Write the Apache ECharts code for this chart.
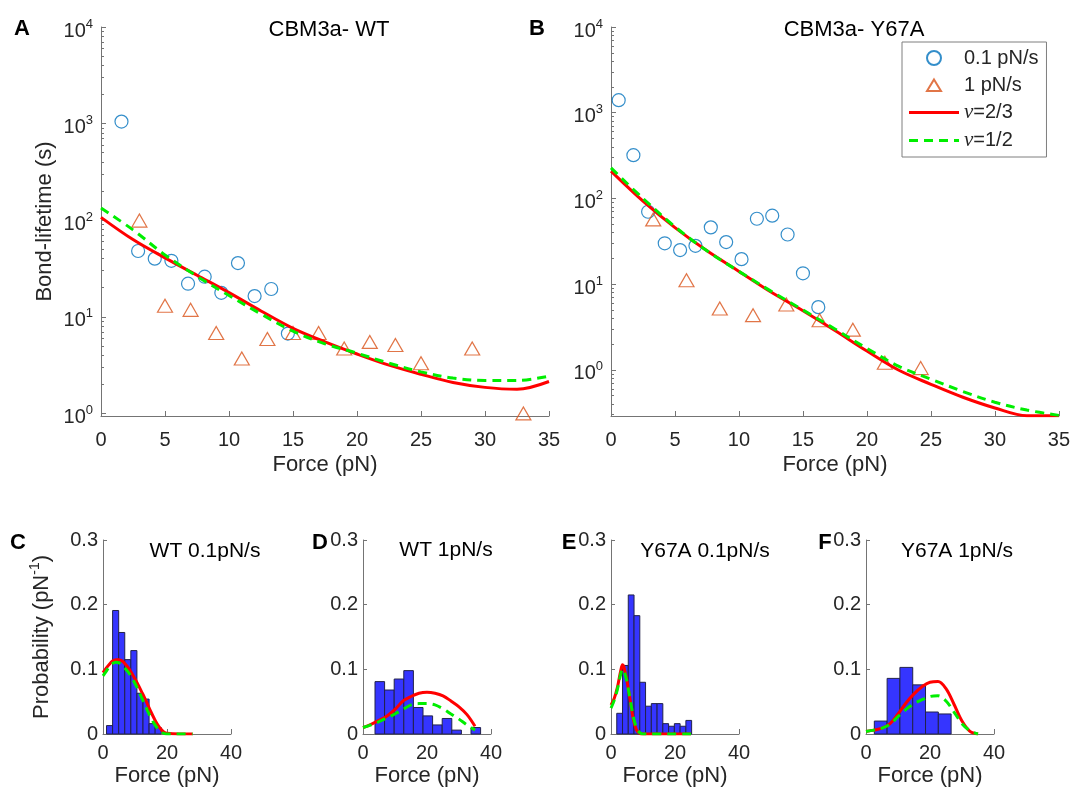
<!DOCTYPE html>
<html>
<head>
<meta charset="utf-8">
<title>CBM3a bond lifetime</title>
<script src="https://cdn.jsdelivr.net/npm/echarts@6.0.0/dist/echarts.min.js"></script>
<style>
html,body{margin:0;padding:0;background:#fff;}
#main{width:1073px;height:807px;}
</style>
</head>
<body>
<div id="main"></div>
<script>
// ---- data ----
// A: CBM3a- WT, bond lifetime vs force
var aCircleX = [1.6, 2.9, 4.2, 5.5, 6.8, 8.1, 9.4, 10.7, 12.0, 13.3, 14.6];
var aCircleY = [1050, 48, 40, 38, 22, 26, 17.7, 36, 16.4, 19.4, 6.7];
var aTriX = [3.0, 5.0, 7.0, 9.0, 11.0, 13.0, 15.0, 17.0, 19.0, 21.0, 23.0, 25.0, 29.0, 33.0];
var aTriY = [99, 13, 11.8, 6.8, 3.7, 5.9, 6.8, 6.8, 4.7, 5.5, 5.1, 3.3, 4.7, 1.0];
var fitX = [0, 2.5, 5, 7.5, 10, 12.5, 15, 17.5, 20, 22.5, 25, 27.5, 30, 32.5, 35];
var aRed = [107, 63, 40.7, 26.9, 17.8, 11.5, 7.6, 5.5, 4.12, 3.16, 2.54, 2.09, 1.86, 1.78, 2.14];
var aGreen = [134, 79.4, 43.7, 26.3, 16.6, 10.7, 7.1, 5.25, 4.2, 3.31, 2.69, 2.32, 2.19, 2.19, 2.43];

// B: CBM3a- Y67A
var bCircleX = [0.6, 1.75, 2.9, 4.2, 5.4, 6.6, 7.8, 9.0, 10.2, 11.4, 12.6, 13.8, 15.0, 16.2];
var bCircleY = [1400, 320, 70, 30, 25, 28, 46, 31, 19.6, 58, 63, 38, 13.4, 5.4];
var bTriX = [3.3, 5.9, 8.5, 11.1, 13.7, 16.3, 18.9, 21.4, 24.2];
var bTriY = [57, 11.1, 5.2, 4.35, 5.8, 3.8, 2.95, 1.21, 1.05];
var bRed = [208, 93, 45.7, 24.5, 14.1, 8.1, 4.9, 2.88, 1.66, 0.99, 0.68, 0.48, 0.36, 0.292, 0.291];
var bGreen = [227, 100, 46.8, 24.5, 14.1, 8.3, 5.0, 3.0, 1.78, 1.10, 0.78, 0.56, 0.42, 0.34, 0.295];

// C-F: force histograms (probability per pN)
var cBinStart = 1.1, cBinWidth = 1.9;
var cCounts = [0.013, 0.191, 0.157, 0.115, 0.129, 0.063, 0.054, 0.016, 0.01];
var dBinStart = 3.75, dBinWidth = 3.0;
var dCounts = [0.081, 0.068, 0.085, 0.098, 0.041, 0.028, 0.014, 0.024, 0.006, 0, 0.01];
var eBinStart = 1.8, eBinWidth = 1.8;
var eCounts = [0.032, 0.106, 0.215, 0.183, 0.08, 0.043, 0.047, 0.047, 0.016, 0.012, 0.016, 0.012, 0.021];
var fBinStart = 2.6, fBinWidth = 4.0;
var fCounts = [0.02, 0.086, 0.103, 0.076, 0.034, 0.031];

var cFitX = [0, 1, 2, 3, 4, 5, 6, 7, 8, 9, 10, 11, 12, 13, 14, 15, 16, 17, 18, 19, 20, 24, 28];
var cRed = [0.095, 0.102, 0.108, 0.113, 0.115, 0.115, 0.113, 0.108, 0.102, 0.094, 0.085, 0.076, 0.066, 0.056, 0.045, 0.034, 0.024, 0.015, 0.008, 0.003, 0.001, 0, 0];
var cGreen = [0.090, 0.097, 0.104, 0.109, 0.111, 0.110, 0.106, 0.101, 0.095, 0.087, 0.078, 0.068, 0.057, 0.046, 0.035, 0.025, 0.016, 0.009, 0.004, 0.001, 0, 0, 0];
var dRed = [0.010, 0.015, 0.021, 0.028, 0.038, 0.051, 0.058, 0.063, 0.0645, 0.063, 0.059, 0.051, 0.042, 0.030, 0.012];
var dGreen = [0.010, 0.014, 0.019, 0.025, 0.031, 0.038, 0.045, 0.047, 0.047, 0.045, 0.039, 0.031, 0.023, 0.014, 0.006];
var eFitX = [0, 1, 2, 3, 3.6, 4, 5, 6, 7, 8, 9, 10, 15, 20, 25];
var eRed = [0.045, 0.055, 0.072, 0.097, 0.107, 0.104, 0.082, 0.052, 0.022, 0.006, 0.001, 0, 0, 0, 0];
var eGreen = [0.040, 0.052, 0.069, 0.092, 0.100, 0.099, 0.080, 0.053, 0.026, 0.009, 0.002, 0, 0, 0, 0];
var fRed = [0.004, 0.006, 0.009, 0.016, 0.031, 0.048, 0.062, 0.073, 0.080, 0.081, 0.070, 0.046, 0.020, 0.004, 0];
var fGreen = [0.004, 0.006, 0.009, 0.015, 0.027, 0.038, 0.047, 0.053, 0.058, 0.059, 0.051, 0.034, 0.016, 0.005, 0];

var logMajor = [1, 10, 100, 1000, 10000];
var logMinorA = [2,3,4,5,6,7,8,9, 20,30,40,50,60,70,80,90, 200,300,400,500,600,700,800,900, 2000,3000,4000,5000,6000,7000,8000,9000];
var logMinorB = [0.3,0.4,0.5,0.6,0.7,0.8,0.9].concat(logMinorA);

// ---- styling ----
var FONT = '"Liberation Sans", Arial, Helvetica, sans-serif';
var AXIS = '#747474', TXT = '#262626';
var BLUE = '#0072BD', ORANGE = '#D95319', RED = '#ff0000', GREEN = '#00ee00';

// legend icons (padded to the 50x14 icon box so they are not stretched)
var ICON_TRI = 'path://M0,0M50,14M25,1.5L32,13L18,13Z';
var ICON_LINE = 'path://M0,0M50,14M0,5.5h50v3h-50z';
var ICON_DASH = 'path://M0,0M50,14M0,5.5h9v3h-9zM15,5.5h9v3h-9zM30,5.5h9v3h-9zM45,5.5h5v3h-5z';

function pairs(xs, ys){
    return xs.map(function(x, i){ return [x, ys[i]]; });
}
function bins(start, width, counts){
    var out = [];
    counts.forEach(function(c, i){
        if (c > 0) out.push([start + i*width, start + (i+1)*width, c]);
    });
    return out;
}
function powLabel(v){
    var e = Math.round(Math.log10(v));
    if (Math.abs(Math.pow(10, e) - v) > 1e-6*v) return '';
    return '{b|10}{s|' + e + '}';
}
var supRich = {
    b: {fontSize: 20, fontFamily: FONT, color: TXT, padding: [8,0,0,0]},
    s: {fontSize: 13, fontFamily: FONT, color: TXT, padding: [0,0,6,0]}
};

function xAx(i, max, interval, margin, gap){
    return {
        type: 'value', gridIndex: i, min: 0, max: max, interval: interval,
        name: 'Force (pN)', nameLocation: 'middle', nameGap: gap,
        nameTextStyle: {fontSize: 22, fontFamily: FONT, color: TXT},
        axisLine: {onZero: false, lineStyle: {color: AXIS, width: 1}},
        axisTick: {inside: true, length: 5, lineStyle: {color: AXIS}},
        axisLabel: {fontSize: 20, fontFamily: FONT, color: TXT, margin: margin},
        splitLine: {show: false}
    };
}
function logAx(i, min, name){
    return {
        type: 'log', logBase: 10, gridIndex: i, min: min, max: 10000,
        name: name, nameLocation: 'middle', nameGap: 45,
        nameTextStyle: {fontSize: 22, fontFamily: FONT, color: TXT},
        axisLine: {onZero: false, lineStyle: {color: AXIS, width: 1}},
        axisTick: {inside: true, length: 5, customValues: logMajor, lineStyle: {color: AXIS}},
        axisLabel: {customValues: logMajor, formatter: powLabel, rich: supRich, margin: 8},
        splitLine: {show: false}, minorTick: {show: false}
    };
}
function logMinorAx(i, min, ticks){
    return {
        type: 'log', logBase: 10, gridIndex: i, min: min, max: 10000, position: 'left',
        axisLine: {show: false},
        axisTick: {inside: true, length: 3, customValues: ticks, lineStyle: {color: AXIS}},
        axisLabel: {show: false}, splitLine: {show: false}
    };
}
function probAx(i, name){
    return {
        type: 'value', gridIndex: i, min: 0, max: 0.3, interval: 0.1,
        name: name, nameLocation: 'middle', nameGap: 50,
        nameTextStyle: {fontSize: 22, fontFamily: FONT, color: TXT, rich: {
            a: {fontSize: 22, fontFamily: FONT, color: TXT, padding: [6,0,0,0]},
            s: {fontSize: 14, fontFamily: FONT, color: TXT, padding: [0,0,8,0]}
        }},
        axisLine: {onZero: false, lineStyle: {color: AXIS, width: 1}},
        axisTick: {inside: true, length: 4, lineStyle: {color: AXIS}},
        axisLabel: {fontSize: 20, fontFamily: FONT, color: TXT, margin: 5},
        splitLine: {show: false}
    };
}

function histItem(params, api){
    var p0 = api.coord([api.value(0), api.value(2)]);
    var p1 = api.coord([api.value(1), 0]);
    return {
        type: 'rect',
        shape: {x: p0[0], y: p0[1], width: p1[0] - p0[0], height: p1[1] - p0[1]},
        style: {fill: '#3535ff', stroke: '#22224a', lineWidth: 1}
    };
}

function circles(i, xs, ys){
    return {type: 'scatter', name: '0.1 pN/s', xAxisIndex: i, yAxisIndex: i, data: pairs(xs, ys),
        symbol: 'circle', symbolSize: 13, z: 2,
        itemStyle: {color: 'rgba(255,255,255,0)', borderColor: BLUE, borderWidth: 1.2}};
}
function triangles(i, xs, ys){
    return {type: 'scatter', name: '1 pN/s', xAxisIndex: i, yAxisIndex: i, data: pairs(xs, ys),
        symbol: 'triangle', symbolSize: [15, 13], z: 2,
        itemStyle: {color: 'rgba(255,255,255,0)', borderColor: ORANGE, borderWidth: 1.2}};
}
function redLine(i, xs, ys){
    return {type: 'line', name: 'ν=2/3', xAxisIndex: i, yAxisIndex: i, data: pairs(xs, ys),
        smooth: 0.35, symbol: 'none', color: RED, z: 3,
        itemStyle: {color: RED}, lineStyle: {color: RED, width: 3}};
}
function greenLine(i, xs, ys){
    return {type: 'line', name: 'ν=1/2', xAxisIndex: i, yAxisIndex: i, data: pairs(xs, ys),
        smooth: 0.35, symbol: 'none', color: GREEN, z: 4,
        itemStyle: {color: GREEN}, lineStyle: {color: GREEN, width: 3, type: [9, 6]}};
}
function hist(i, start, width, counts){
    return {type: 'custom', xAxisIndex: i, yAxisIndex: i, data: bins(start, width, counts),
        encode: {x: [0, 1], y: 2}, renderItem: histItem, z: 1};
}

function label(text, x, y, size, bold){
    return {type: 'text', x: x, y: y, style: {text: text, fill: '#000', fontSize: size,
        fontFamily: FONT, fontWeight: bold ? 'bold' : 'normal', align: 'center', verticalAlign: 'middle'}};
}

var chart = echarts.init(document.getElementById('main'));
chart.setOption({
    backgroundColor: '#fff',
    animation: false,
    grid: [
        {left: 101, top: 27, width: 448, height: 389},
        {left: 611, top: 27, width: 448, height: 389},
        {left: 103, top: 540, width: 128, height: 194},
        {left: 363, top: 540, width: 128, height: 194},
        {left: 611, top: 540, width: 128, height: 194},
        {left: 866, top: 540, width: 128, height: 194}
    ],
    xAxis: [
        xAx(0, 35, 5, 14, 38), xAx(1, 35, 5, 14, 38),
        xAx(2, 40, 20, 9, 31), xAx(3, 40, 20, 9, 31),
        xAx(4, 40, 20, 9, 31), xAx(5, 40, 20, 9, 31)
    ],
    yAxis: [
        logAx(0, 0.94, 'Bond-lifetime (s)'), logAx(1, 0.29, ''),
        probAx(2, '{a|Probability (pN}{s|-1}{a|)}'), probAx(3, ''), probAx(4, ''), probAx(5, ''),
        logMinorAx(0, 0.94, logMinorA), logMinorAx(1, 0.29, logMinorB)
    ],
    legend: {
        data: [
            {name: '0.1 pN/s'},
            {name: '1 pN/s', icon: ICON_TRI},
            {name: 'ν=2/3', icon: ICON_LINE},
            {name: 'ν=1/2', icon: ICON_DASH}
        ],
        orient: 'vertical', left: 902, top: 42,
        itemWidth: 50, itemHeight: 14, itemGap: 7,
        padding: [6, 8, 6, 6], borderColor: '#7f7f7f', borderWidth: 1, backgroundColor: '#fff',
        selectedMode: false,
        textStyle: {fontSize: 20, fontFamily: FONT, color: TXT, rich: {
            n: {fontSize: 21, fontFamily: '"Liberation Serif", serif', fontStyle: 'italic', color: TXT}
        }},
        formatter: function(name){
            if (name.charAt(0) === 'ν') return '{n|ν}' + name.slice(1);
            return name;
        }
    },
    graphic: [
        label('A', 22, 29, 22, true), label('B', 537, 29, 22, true),
        label('C', 18, 543, 22, true), label('D', 320, 543, 22, true),
        label('E', 569, 543, 22, true), label('F', 825, 543, 22, true),
        label('CBM3a- WT', 329, 30, 22, false), label('CBM3a- Y67A', 854, 30, 22, false),
        label('WT 0.1pN/s', 205, 551, 21, false), label('WT 1pN/s', 446, 550, 21, false),
        label('Y67A 0.1pN/s', 705, 551, 21, false), label('Y67A 1pN/s', 957, 551, 21, false)
    ],
    series: [
        circles(0, aCircleX, aCircleY), triangles(0, aTriX, aTriY),
        redLine(0, fitX, aRed), greenLine(0, fitX, aGreen),
        circles(1, bCircleX, bCircleY), triangles(1, bTriX, bTriY),
        redLine(1, fitX, bRed), greenLine(1, fitX, bGreen),
        hist(2, cBinStart, cBinWidth, cCounts),
        redLine(2, cFitX, cRed), greenLine(2, cFitX, cGreen),
        hist(3, dBinStart, dBinWidth, dCounts),
        redLine(3, fitX, dRed), greenLine(3, fitX, dGreen),
        hist(4, eBinStart, eBinWidth, eCounts),
        redLine(4, eFitX, eRed), greenLine(4, eFitX, eGreen),
        hist(5, fBinStart, fBinWidth, fCounts),
        redLine(5, fitX, fRed), greenLine(5, fitX, fGreen)
    ]
});
</script>
</body>
</html>
